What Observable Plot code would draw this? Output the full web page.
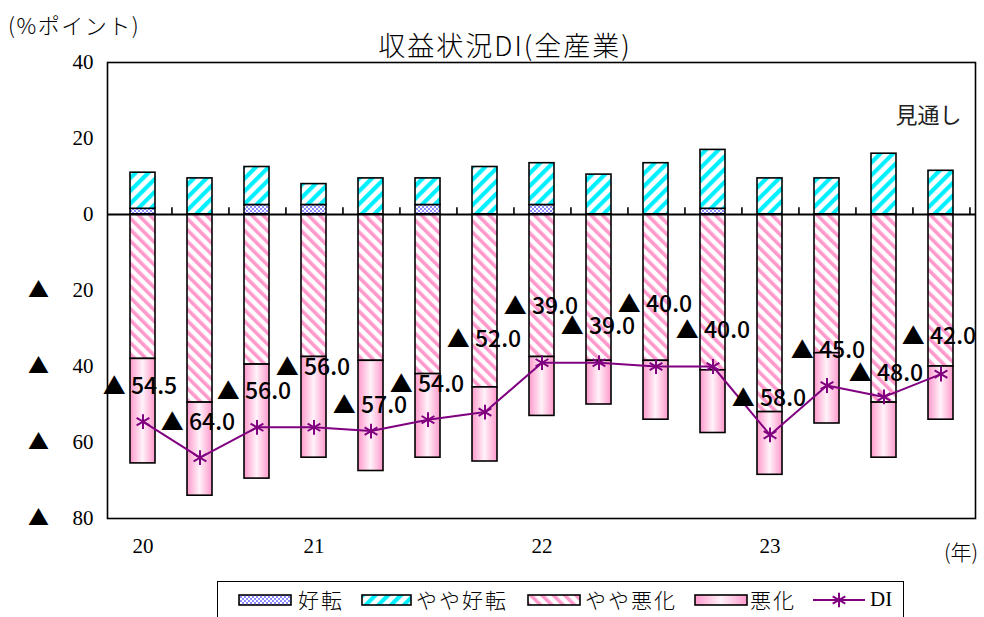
<!DOCTYPE html>
<html><head><meta charset="utf-8">
<script src="https://cdn.jsdelivr.net/npm/d3@7"></script>
<script src="https://cdn.jsdelivr.net/npm/@observablehq/plot@0.6"></script>
<style>
body{margin:0;background:#fff;}
#wrap{position:relative;width:984px;height:617px;overflow:hidden;font-family:"Noto Sans CJK JP",sans-serif;color:#000;}
.abs{position:absolute;white-space:nowrap;line-height:1;}
#chart{position:absolute;left:0;top:0;}
</style></head><body><div id="wrap"><div id="chart"></div></div>
<script>
// ---- data ----
const periods = ["2020-2","2020-3","2020-4","2021-1","2021-2","2021-3","2021-4","2022-1","2022-2","2022-3","2022-4","2023-1","2023-2","2023-3","2023-4"];
const yearLabels = ["20","","","21","","","","22","","","","23","","",""];
const kouten     = [1.5, 0, 2.5, 2.5, 0, 2.5, 0, 2.5, 0, 0, 1.5, 0, 0, 0, 0];          // 好転
const yayaKouten = [9.5, 9.5, 10, 5.5, 9.5, 7, 12.5, 11, 10.5, 13.5, 15.5, 9.5, 9.5, 16, 11.5]; // やや好転
const yayaAkka   = [38, 49.5, 39.5, 37.5, 38.5, 42, 45.5, 37.5, 38.5, 38.5, 41, 52, 36.5, 49.5, 40]; // やや悪化
const akka       = [27.5, 24.5, 30, 26.5, 29, 22, 19.5, 15.5, 11.5, 15.5, 16.5, 16.5, 18.5, 14.5, 14]; // 悪化
const di         = [-54.5, -64, -56, -56, -57, -54, -52, -39, -39, -40, -40, -58, -45, -48, -42];
const yTicks = [-80, -60, -40, -20, 0, 20, 40];
const categories = ["好転", "やや好転", "やや悪化", "悪化"];

// ---- build tables ----
const rows = periods.flatMap((p, i) => [
  {p, cat: "好転", v: kouten[i]},
  {p, cat: "やや好転", v: yayaKouten[i]},
  {p, cat: "やや悪化", v: -yayaAkka[i]},
  {p, cat: "悪化", v: -akka[i]}
]);
const diRows = periods.map((p, i) => ({p, di: di[i]}));
const yearOf = Object.fromEntries(periods.map((p, i) => [p, yearLabels[i]]));

// ---- styles / layout ----
const fills = {"好転": "url(#pGood)", "やや好転": "url(#pSlightGood)", "やや悪化": "url(#pSlightBad)", "悪化": "url(#gBad)"};
const labelDy = [-35, -35, -36, -60, -25, -35, -72, -56, -36, -62, -36, -36, -35, -23, -37];
const labelDx = [-3, -2, -3, -1, -1, -1, -1, -1, -1, -1, 0, -1, 1, 2, -2];
const purple = "#800080";
const serif = "'Liberation Serif','Noto Sans CJK JP',serif";
const sans = "'Noto Sans CJK JP',sans-serif";
const step = (984 - 107 - 9) / periods.length;

const chart = Plot.plot({
  width: 984, height: 575,
  marginLeft: 107, marginRight: 9, marginTop: 62, marginBottom: 57,
  x: {domain: periods, paddingInner: 0.57, paddingOuter: 0.285},
  y: {domain: [-80, 40]},
  color: {type: "identity"},
  marks: [
    Plot.axisY({ticks: yTicks, tickSize: 0, tickPadding: 14, label: null,
      tickFormat: d => String(Math.abs(d)), fontSize: 21, fontFamily: serif}),
    Plot.text(yTicks.filter(d => d < 0), {frameAnchor: "left", y: d => d, text: () => "▲", dx: -69,
      textAnchor: "middle", lineAnchor: "middle", fontSize: 21, fontFamily: sans, fill: "#000"}),
    Plot.axisX({tickSize: 0, tickPadding: 20, label: null,
      tickFormat: d => yearOf[d], fontSize: 21, fontFamily: serif}),
    Plot.barY(rows, Plot.stackY({x: "p", y: "v", fill: d => fills[d.cat], stroke: "#000", strokeWidth: 1.6, order: null})),
    Plot.ruleY([0], {stroke: "#000", strokeWidth: 2.2}),
    Plot.ruleX(periods, {x: d => d, y1: 0, y2: 1.8, dx: step / 2, stroke: "#000", strokeWidth: 1.6}),
    Plot.frame({stroke: "#000", strokeWidth: 1.6}),
    Plot.line(diRows, {x: "p", y: "di", stroke: purple, strokeWidth: 2}),
    Plot.dot(diRows, {x: "p", y: "di", symbol: "asterisk", r: 7, stroke: purple, strokeWidth: 2}),
    ...diRows.map((d, i) => Plot.text([d], {x: "p", y: "di", text: r => "▲ " + Math.abs(r.di).toFixed(1),
      dy: labelDy[i], dx: labelDx[i], fontSize: 23, fill: "#000",
      fontFamily: sans, fontWeight: 500, textAnchor: "middle", lineAnchor: "middle"})),
    Plot.text(["見通し"], {frameAnchor: "top-right", dx: -14, dy: 53, textAnchor: "end", lineAnchor: "middle",
      fontSize: 22, fontFamily: sans, fill: "#222"})
  ]
});

d3.select(chart).insert("defs", ":first-child").html(`
  <pattern id="pGood" width="4" height="4" patternUnits="userSpaceOnUse">
    <rect width="4" height="4" fill="#ffffff"/>
    <rect width="2" height="2" fill="#8c8cff"/><rect x="2" y="2" width="2" height="2" fill="#8c8cff"/>
  </pattern>
  <pattern id="pSlightGood" width="9" height="9" patternUnits="userSpaceOnUse" patternTransform="rotate(45)">
    <rect width="9" height="9" fill="#ffffff"/><rect width="4.2" height="9" fill="#00f0ff"/>
  </pattern>
  <pattern id="pSlightBad" width="8" height="8" patternUnits="userSpaceOnUse" patternTransform="rotate(-45)">
    <rect width="8" height="8" fill="#ffffff"/><rect width="3.6" height="8" fill="#ff99cc"/>
  </pattern>
  <linearGradient id="gBad" x1="0" x2="1" y1="0" y2="0">
    <stop offset="0" stop-color="#ff99cc"/><stop offset="0.5" stop-color="#fff2f8"/><stop offset="1" stop-color="#ff99cc"/>
  </linearGradient>`);

document.getElementById("chart").appendChild(chart);

const wrap = document.getElementById("wrap");
function addText(txt, left, top, size, extra = "") {
  const el = document.createElement("div");
  el.className = "abs";
  el.textContent = txt;
  el.style.cssText += `left:${left}px;top:${top}px;font-size:${size}px;${extra}`;
  wrap.appendChild(el);
  return el;
}
addText("収益状況DI(全産業)", 505, 31, 27, "transform:translateX(-50%);letter-spacing:2px;font-weight:300;");
addText("(%ポイント)", 8, 13, 22, "letter-spacing:1.5px;font-weight:300;");
addText("(年)", 944, 541, 21, "font-weight:300;");

// legend
const box = document.createElement("div");
box.className = "abs";
box.style.cssText += "left:217px;top:581px;width:685px;height:60px;border:1.5px solid #000;background:#fff;";
wrap.appendChild(box);
const legendItems = [
  {name: categories[0], sx: 239, sw: 52, tx: 298},
  {name: categories[1], sx: 362, sw: 49, tx: 416},
  {name: categories[2], sx: 528, sw: 52, tx: 585},
  {name: categories[3], sx: 695, sw: 52, tx: 750}
];
legendItems.forEach(it => {
  const s = document.createElementNS("http://www.w3.org/2000/svg", "svg");
  s.setAttribute("width", it.sw + 2); s.setAttribute("height", 12);
  s.style.cssText = `position:absolute;left:${it.sx - 1}px;top:594px;`;
  s.innerHTML = `<rect x="1" y="1" width="${it.sw}" height="10" fill="${fills[it.name]}" stroke="#000" stroke-width="1.6"/>`;
  wrap.appendChild(s);
  addText(it.name, it.tx, 589, 21, "letter-spacing:2px;font-weight:300;");
});
const ls = document.createElementNS("http://www.w3.org/2000/svg", "svg");
ls.setAttribute("width", 56); ls.setAttribute("height", 20);
ls.style.cssText = "position:absolute;left:811px;top:590px;";
ls.innerHTML = `<line x1="2" x2="54" y1="10" y2="10" stroke="${purple}" stroke-width="2"/>` +
  `<path d="${d3.symbol(d3.symbolAsterisk, 150)()}" transform="translate(28,10)" stroke="${purple}" stroke-width="2" fill="none"/>`;
wrap.appendChild(ls);
addText("DI", 870, 589, 21, "font-family:" + serif + ";");
</script>
</body></html>
